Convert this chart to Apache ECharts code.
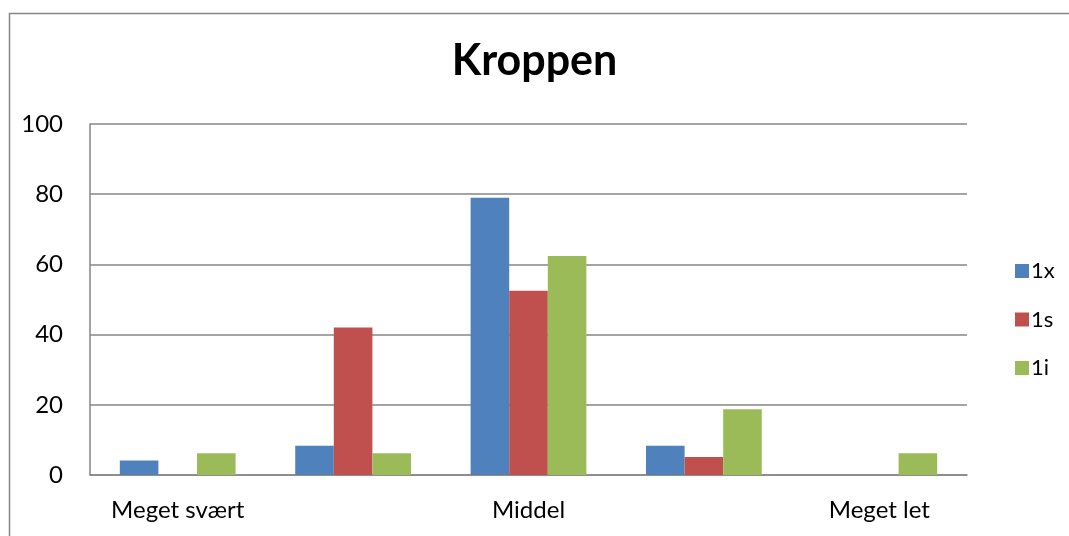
<!DOCTYPE html>
<html>
<head>
<meta charset="utf-8">
<style>html,body{margin:0;padding:0;background:#fff}#c{width:1069px;height:536px}</style>
<script src="https://cdn.jsdelivr.net/npm/echarts@6/dist/echarts.min.js"></script>
</head>
<body>
<div id="c"></div>
<script>
const title = 'Kroppen';
const categories = ['Meget svært', '', 'Middel', '', 'Meget let'];
const seriesNames = ['1x', '1s', '1i'];
const colors = ['#4F81BD', '#C0504D', '#9BBB59'];
const values1x = [4.1, 8.3, 79.0, 8.3, 0];
const values1s = [0, 42.0, 52.5, 5.1, 0];
const values1i = [6.2, 6.2, 62.4, 18.7, 6.2];
const yTicks = [0, 20, 40, 60, 80, 100];

const FONT = 'Lato';
const chart = echarts.init(document.getElementById('c'), null, {renderer: 'canvas'});
const allValues = [values1x, values1s, values1i];
chart.setOption({
  animation: false,
  textStyle: {fontFamily: FONT},
  title: {
    text: title, left: 'center', top: 35,
    textStyle: {fontFamily: FONT, fontWeight: 'bold', fontSize: 43, color: '#000'}
  },
  graphic: [{
    type: 'rect', left: 7, top: 11, silent: true,
    shape: {x: 0, y: 0, width: 1100, height: 600},
    style: {fill: 'none', stroke: '#868686', lineWidth: 1.5}
  }],
  legend: {
    orient: 'vertical', left: 1010, top: 255,
    itemWidth: 14, itemHeight: 14, itemGap: 26.5,
    icon: 'rect',
    textStyle: {fontFamily: FONT, fontSize: 22, color: '#000', lineHeight: 22, padding: [0, 0, 0, -3]},
    data: seriesNames
  },
  grid: {left: 90, right: 102, top: 124, bottom: 61},
  xAxis: {
    type: 'category', data: categories,
    axisLine: {lineStyle: {color: '#868686', width: 1.5}},
    axisTick: {show: false},
    axisLabel: {fontFamily: FONT, fontSize: 24, color: '#000', margin: 23, interval: 0}
  },
  yAxis: {
    type: 'value', min: yTicks[0], max: yTicks[yTicks.length - 1], interval: 20,
    axisLine: {show: true, lineStyle: {color: '#868686', width: 1.5}},
    axisTick: {show: false},
    splitLine: {lineStyle: {color: '#868686', width: 1.5}},
    axisLabel: {fontFamily: FONT, fontSize: 24, color: '#000', margin: 27}
  },
  series: seriesNames.map((n, i) => ({
    name: n, type: 'bar', data: allValues[i],
    itemStyle: {color: colors[i]},
    barWidth: '22%', barGap: '0%', barCategoryGap: '34%'
  }))
});
</script>
</body>
</html>
